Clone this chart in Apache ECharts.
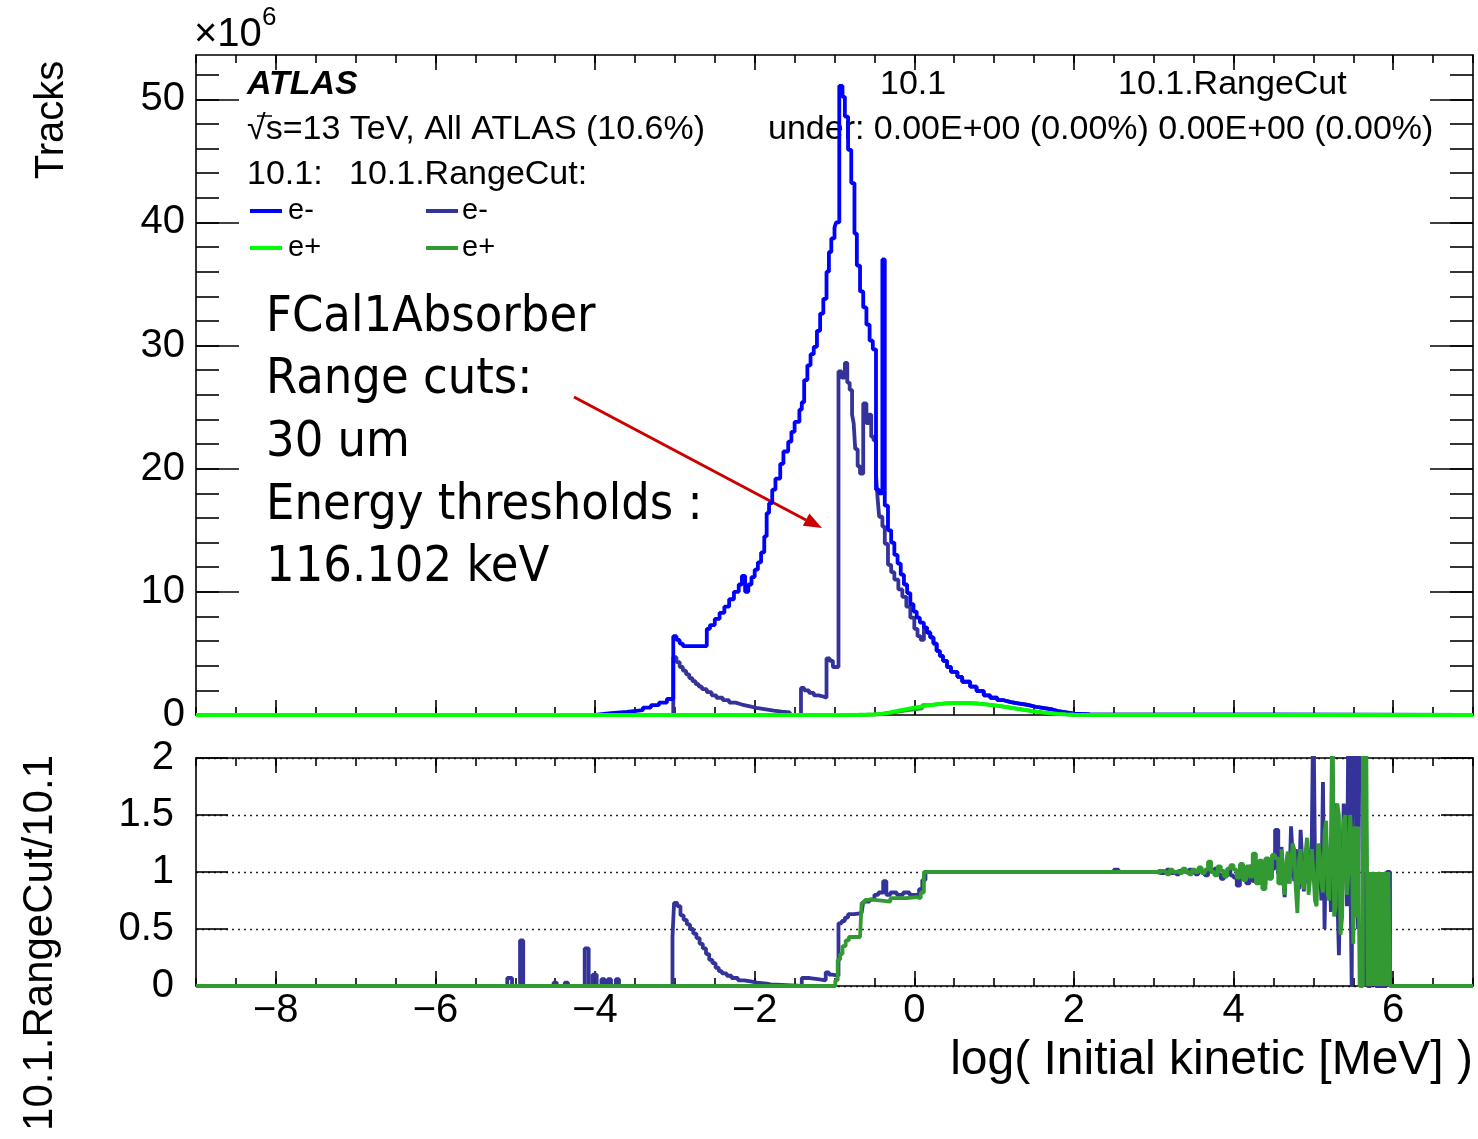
<!DOCTYPE html>
<html>
<head>
<meta charset="utf-8">
<script src="https://cdn.jsdelivr.net/npm/echarts@6/dist/echarts.min.js"></script>
<style>
  html, body { margin: 0; padding: 0; background: #ffffff; }
  #chart { width: 1478px; height: 1139px; }
</style>
</head>
<body>
<div id="chart"></div>
<script>
// Histogram contents: [left bin edge in log10(E/MeV), tracks in units of 10^6]
const electrons101 = [[-9,0],[-4.0,0.15],[-3.8,0.25],[-3.6,0.4],[-3.4,0.6],[-3.3,0.8],[-3.2,1.0],[-3.1,1.3],
  [-3.02,6.4],[-2.98,6.1],[-2.94,5.8],[-2.9,5.6],[-2.6,7.0],[-2.56,7.3],[-2.5,7.8],[-2.44,8.3],[-2.38,8.8],
  [-2.32,9.4],[-2.26,10.0],[-2.2,10.6],[-2.16,11.3],[-2.12,10.0],[-2.08,10.6],[-2.04,11.2],[-2.0,11.8],
  [-1.96,12.4],[-1.92,13.2],[-1.88,14.5],[-1.85,16.4],[-1.82,17.2],[-1.78,18.3],[-1.74,19.2],[-1.68,20.4],
  [-1.64,21.4],[-1.58,22.2],[-1.54,23.0],[-1.5,23.8],[-1.44,24.8],[-1.41,25.4],[-1.38,27.2],[-1.34,28.4],
  [-1.3,29.3],[-1.26,29.9],[-1.22,31.2],[-1.18,32.6],[-1.14,33.8],[-1.1,36.0],[-1.07,37.6],[-1.04,38.7],
  [-1.0,39.6],[-0.98,40.0],[-0.94,51.1],[-0.9,50.2],[-0.87,48.6],[-0.83,45.9],[-0.79,43.2],[-0.75,39.1],
  [-0.72,36.5],[-0.68,34.4],[-0.64,33.1],[-0.6,31.7],[-0.56,30.4],[-0.52,29.7],[-0.48,18.3],[-0.44,18.0],
  [-0.4,37.0],[-0.37,17.0],[-0.33,15.0],[-0.29,14.0],[-0.25,13.0],[-0.21,12.3],[-0.17,11.4],[-0.13,10.6],
  [-0.09,9.9],[-0.05,9.0],[-0.01,8.4],[0.03,7.9],[0.07,7.5],[0.12,7.1],[0.16,6.7],[0.2,6.3],[0.24,5.8],
  [0.28,5.2],[0.32,4.8],[0.36,4.4],[0.41,3.9],[0.46,3.5],[0.54,3.1],[0.6,2.7],[0.7,2.3],[0.78,1.95],
  [0.87,1.6],[0.95,1.4],[1.04,1.2],[1.12,1.05],[1.21,0.95],[1.3,0.82],[1.42,0.67],[1.52,0.55],[1.63,0.45],
  [1.73,0.32],[1.8,0.22],[1.9,0.12],[2.0,0.08],[2.1,0.05],[2.2,0],[7,0]];

const electronsRangeCut = [[-9,0],[-3.02,4.7],[-2.98,4.3],[-2.94,3.9],[-2.9,3.6],[-2.86,3.3],[-2.82,3.0],
  [-2.78,2.75],[-2.74,2.5],[-2.7,2.3],[-2.66,2.1],[-2.6,1.85],[-2.54,1.6],[-2.48,1.4],[-2.4,1.2],[-2.32,1.0],
  [-2.24,0.85],[-2.16,0.7],[-2.06,0.55],[-1.96,0.45],[-1.86,0.35],[-1.76,0.28],[-1.66,0.22],[-1.56,0],
  [-1.42,2.2],[-1.38,2.0],[-1.32,1.8],[-1.26,1.6],[-1.2,1.5],[-1.14,1.4],[-1.1,4.6],[-1.06,4.4],[-1.02,3.9],
  [-0.95,27.9],[-0.91,27.4],[-0.87,28.6],[-0.84,27.0],[-0.81,26.4],[-0.78,24.4],[-0.76,23.7],[-0.74,21.6],
  [-0.71,20.2],[-0.68,19.6],[-0.64,25.3],[-0.6,23.7],[-0.57,24.4],[-0.54,22.6],[-0.51,22.3],[-0.48,19.5],
  [-0.46,17.6],[-0.44,16.1],[-0.4,15.3],[-0.37,13.9],[-0.33,12.2],[-0.29,11.6],[-0.25,11.0],[-0.2,10.2],
  [-0.15,9.6],[-0.1,8.8],[-0.05,7.9],[0.0,7.0],[0.04,6.4],[0.08,6.1],[0.12,7.1],[0.16,6.7],[0.2,6.3],
  [0.24,5.8],[0.28,5.2],[0.32,4.8],[0.36,4.4],[0.41,3.9],[0.46,3.5],[0.54,3.1],[0.6,2.7],[0.7,2.3],
  [0.78,1.95],[0.87,1.6],[0.95,1.4],[1.04,1.2],[1.12,1.05],[1.21,0.95],[1.3,0.82],[1.42,0.67],[1.52,0.55],
  [1.63,0.45],[1.73,0.32],[1.8,0.22],[1.9,0.12],[2.0,0.08],[2.1,0.05],[2.2,0],[7,0]];

const positrons101 = [[-9,0],[-0.9,0.02],[-0.7,0.05],[-0.5,0.12],[-0.4,0.22],[-0.3,0.35],[-0.2,0.48],
  [-0.1,0.6],[0.0,0.7],[0.1,0.8],[0.2,0.88],[0.3,0.94],[0.4,0.97],[0.5,0.98],[0.6,0.96],[0.7,0.92],
  [0.8,0.86],[0.9,0.78],[1.0,0.7],[1.1,0.6],[1.2,0.5],[1.3,0.4],[1.4,0.3],[1.5,0.22],[1.6,0.15],
  [1.7,0.09],[1.8,0.05],[1.9,0.02],[2.0,0],[7,0]];

const positronsRangeCut = [[-9,0],[-0.9,0.005],[-0.7,0.02],[-0.6,0.04],[-0.5,0.09],[-0.4,0.17],[-0.3,0.27],
  [-0.2,0.37],[-0.1,0.46],[0.0,0.54],[0.1,0.8],[0.2,0.88],[0.3,0.94],[0.4,0.97],[0.5,0.98],[0.6,0.96],
  [0.7,0.92],[0.8,0.86],[0.9,0.78],[1.0,0.7],[1.1,0.6],[1.2,0.5],[1.3,0.4],[1.4,0.3],[1.5,0.22],[1.6,0.15],
  [1.7,0.09],[1.8,0.05],[1.9,0.02],[2.0,0],[7,0]];

// Ratio RangeCut / 10.1, e- : [left bin edge, ratio]
const ratioElectrons = [[-9,0],[-5.1,0.07],[-5.04,0],[-4.94,0.4],[-4.9,0],[-4.52,0.03],[-4.48,0],[-4.38,0.03],
  [-4.34,0],[-4.13,0.33],[-4.08,0],[-4.03,0.1],[-3.98,0],[-3.92,0.06],[-3.88,0],[-3.84,0.06],[-3.8,0],
  [-3.74,0.06],[-3.7,0],[-3.03,0.43],[-3.01,0.73],[-2.97,0.7],[-2.93,0.62],[-2.89,0.58],[-2.85,0.54],
  [-2.81,0.5],[-2.77,0.46],[-2.73,0.42],[-2.69,0.37],[-2.65,0.33],[-2.61,0.28],[-2.57,0.23],[-2.53,0.2],
  [-2.49,0.16],[-2.45,0.13],[-2.41,0.11],[-2.35,0.09],[-2.29,0.07],[-2.21,0.05],[-2.13,0.04],[-2.05,0.03],
  [-1.97,0.02],[-1.85,0.015],[-1.8,0],[-1.41,0.07],[-1.31,0.06],[-1.21,0.05],[-1.11,0.12],[-1.07,0.1],
  [-1.03,0.09],[-0.95,0.55],[-0.91,0.57],[-0.87,0.6],[-0.83,0.63],[-0.75,0.64],[-0.66,0.63],[-0.64,0.74],
  [-0.56,0.76],[-0.5,0.8],[-0.45,0.82],[-0.39,0.92],[-0.35,0.8],[-0.3,0.82],[-0.22,0.8],[-0.14,0.82],
  [-0.06,0.8],[0.0,0.8],[0.06,0.85],[0.1,0.93],[0.14,1.0],[1.0,1.0],[2.5,1.02],[2.56,1.0],[3.0,1.0],
  [3.04,1.01],[3.08,0.99],[3.12,1.0],[3.16,1.02],[3.2,0.99],[3.24,1.0],[3.28,0.98],[3.32,1.01],[3.36,1.0],
  [3.4,0.99],[3.44,1.02],[3.48,1.0],[3.52,0.98],[3.56,1.01],[3.6,1.0],[3.64,0.97],[3.68,1.02],[3.72,1.0],
  [3.76,1.03],[3.8,0.98],[3.84,0.94],[3.88,1.0],[3.92,1.02],[3.96,0.97],
  [4.0,0.95],[4.04,0.88],[4.08,1.03],[4.12,0.96],[4.16,0.9],[4.2,1.05],[4.24,0.92],[4.28,1.08],[4.32,0.97],
  [4.36,0.89],[4.4,1.06],[4.44,0.95],[4.48,1.03],[4.52,1.37],[4.56,0.98],
  [4.60,1.22],[4.62,0.95],[4.64,0.78],[4.66,1.05],[4.68,1.1],[4.70,0.9],[4.72,1.4],[4.74,1.15],[4.76,0.92],
  [4.78,1.2],[4.80,1.05],[4.82,0.85],[4.84,1.37],[4.86,1.1],[4.88,0.83],[4.90,1.0],[4.92,1.25],[4.94,0.9],
  [4.96,1.0],[4.98,1.3],[5.00,2.5],[5.02,1.1],[5.04,0.88],[5.06,1.2],[5.08,1.1],[5.10,0.75],[5.12,1.79],
  [5.14,0.5],[5.16,1.3],[5.18,0.9],[5.20,1.2],[5.22,0.65],[5.24,0.9],[5.26,1.5],[5.28,1.6],[5.30,0.8],
  [5.32,0.27],[5.34,1.1],[5.36,0.9],[5.38,1.6],[5.40,1.3],[5.42,0.7],[5.44,2.5],[5.46,1.2],[5.48,0.0],
  [5.50,2.5],[5.52,2.5],[5.54,0.9],[5.56,0.5],[5.58,2.5],[5.60,2.5],[5.62,1.2],[5.64,0.0],[5.66,1.5],
  [5.68,0.0],[5.70,0.0],[5.72,0.8],[5.74,0.0],[5.76,0.6],[5.78,0.0],[5.80,0.0],[5.82,0.0],[5.84,0.0],
  [5.86,1.0],[5.88,0.0],[5.90,0.0],[5.92,1.0],[5.94,1.0],[5.96,0.0],[7,0]];

// Ratio RangeCut / 10.1, e+
const ratioPositrons = [[-9,0],[-0.99,0.05],[-0.96,0.23],[-0.93,0.28],[-0.9,0.35],[-0.86,0.4],[-0.82,0.43],
  [-0.68,0.43],[-0.66,0.73],[-0.62,0.755],[-0.5,0.74],[-0.3,0.77],[-0.1,0.78],[0.03,0.77],[0.08,0.82],
  [0.12,1.0],[1.0,1.0],[3.0,1.0],
  [3.04,0.99],[3.08,1.01],[3.12,1.0],[3.16,0.98],[3.2,1.02],[3.24,1.0],[3.28,1.01],[3.32,0.99],[3.36,1.03],
  [3.4,1.0],[3.44,0.98],[3.48,1.02],[3.52,1.0],[3.56,1.04],[3.6,0.99],[3.64,1.02],[3.68,1.09],[3.72,1.0],
  [3.76,0.97],[3.8,1.05],[3.84,1.01],[3.88,0.96],[3.92,1.03],[3.96,1.06],
  [4.0,1.02],[4.04,0.95],[4.08,1.07],[4.12,0.93],[4.16,1.05],[4.2,0.96],[4.24,1.16],[4.28,0.9],[4.32,1.1],
  [4.36,0.85],[4.4,1.12],[4.44,0.94],[4.48,1.15],[4.52,1.12],[4.56,0.9],
  [4.60,1.2],[4.62,0.95],[4.64,0.8],[4.66,1.1],[4.68,1.18],[4.70,0.9],[4.72,1.05],[4.74,1.25],[4.76,1.2],
  [4.78,0.85],[4.80,0.64],[4.82,1.1],[4.84,1.2],[4.86,0.9],[4.88,0.85],[4.90,1.15],[4.92,1.3],[4.94,0.8],
  [4.96,0.95],[4.98,1.2],[5.00,1.0],[5.02,0.75],[5.04,0.7],[5.06,1.25],[5.08,1.15],[5.10,0.9],[5.12,0.82],
  [5.14,1.35],[5.16,1.45],[5.18,0.8],[5.20,0.75],[5.22,1.3],[5.24,2.5],[5.26,0.61],[5.28,0.7],[5.30,1.6],
  [5.32,1.5],[5.34,0.45],[5.36,0.6],[5.38,1.45],[5.40,1.5],[5.42,0.8],[5.44,1.0],[5.46,1.5],[5.48,1.3],
  [5.50,0.37],[5.52,1.4],[5.54,0.6],[5.56,1.4],[5.58,0.0],[5.60,0.0],[5.62,2.5],[5.64,1.0],[5.66,2.5],
  [5.68,0.0],[5.70,1.0],[5.72,0.0],[5.74,1.0],[5.76,0.0],[5.78,1.0],[5.80,0.0],[5.82,1.0],[5.84,0.0],
  [5.86,1.0],[5.88,0.0],[5.90,1.0],[5.92,0.0],[5.94,1.0],[5.96,0.0],[7,0]];

// Axis tick positions
const xMajorTicks = [-8, -6, -4, -2, 0, 2, 4, 6];
const yTopMajorTicks = [0, 10, 20, 30, 40, 50];

const xMinorTicks = [];
for (let v = -9; v <= 7.001; v += 0.5) xMinorTicks.push(+v.toFixed(1));
const yTopMinorTicks = [];
for (let v = 0; v <= 52.001; v += 2) yTopMinorTicks.push(v);

const FONT = '"Liberation Sans", Arial, Helvetica, sans-serif';
const NOTE_FONT = '50px "DejaVu Sans", Verdana, sans-serif';
const BLACK = '#000000';
const C_E101 = '#0000ff', C_ERC = '#333399', C_P101 = '#00ff00', C_PRC = '#339933';

function xAxisDef(grid, pos, ticks, len, withLabels, withLine) {
  return {
    type: 'value', gridIndex: grid, position: pos, min: -9, max: 7,
    axisLine: { show: withLine, onZero: false, lineStyle: { color: BLACK, width: 1.6 } },
    axisTick: { show: true, inside: true, length: len, customValues: ticks, lineStyle: { color: BLACK, width: 1.6 } },
    axisLabel: withLabels ? {
      show: true, customValues: xMajorTicks, color: BLACK, fontFamily: FONT, fontSize: 40, margin: 5,
      formatter: v => (v < 0 ? '\u2212' : '') + Math.abs(v)
    } : { show: false },
    splitLine: { show: false }
  };
}

function yTopDef(pos, ticks, len, withLabels, withLine) {
  return {
    type: 'value', gridIndex: 0, position: pos, min: 0, max: 53.6,
    axisLine: { show: withLine, onZero: false, lineStyle: { color: BLACK, width: 1.6 } },
    axisTick: { show: true, inside: true, length: len, customValues: ticks, lineStyle: { color: BLACK, width: 1.6 } },
    axisLabel: withLabels ? {
      show: true, customValues: yTopMajorTicks, color: BLACK, fontFamily: FONT, fontSize: 40, margin: 11
    } : { show: false },
    splitLine: { show: false }
  };
}

function yRatioDef(pos, withLabels, withGrid) {
  return {
    type: 'value', gridIndex: 1, position: pos, min: 0, max: 2, interval: 0.5,
    axisLine: { show: true, onZero: false, lineStyle: { color: BLACK, width: 1.6 } },
    axisTick: { show: true, inside: true, length: 32, lineStyle: { color: BLACK, width: 1.6 } },
    axisLabel: withLabels ? { show: true, color: BLACK, fontFamily: FONT, fontSize: 40, margin: 22 } : { show: false },
    splitLine: { show: withGrid, lineStyle: { color: '#222222', width: 1.3, type: [2, 4] } }
  };
}

// Step-line histogram; the ratio panel clips values that run off the top of its frame
function histo(data, color, xi, yi, z, clip) {
  return {
    type: 'line', data: data, step: 'end', xAxisIndex: xi, yAxisIndex: yi,
    showSymbol: false, symbol: 'none', animation: false, z: z, clip: clip,
    lineStyle: { color: color, width: 3.8 }
  };
}

function note(text, y) {
  return { type: 'text', x: 266, y: y, scaleX: 0.9, style: { text: text, font: NOTE_FONT, fill: BLACK, textVerticalAlign: 'middle' } };
}

const chart = echarts.init(document.getElementById('chart'), null, { renderer: 'canvas' });

const legendY1 = 211, legendY2 = 248;

chart.setOption({
  animation: false,
  backgroundColor: '#ffffff',
  grid: [
    { left: 196, top: 55, width: 1277, height: 660, show: false },
    { left: 196, top: 758, width: 1277, height: 228, show: false }
  ],
  xAxis: [
    xAxisDef(0, 'bottom', xMinorTicks, 8, false, true),
    xAxisDef(0, 'bottom', xMajorTicks, 15, false, false),
    xAxisDef(0, 'top', xMinorTicks, 8, false, true),
    xAxisDef(0, 'top', xMajorTicks, 15, false, false),
    xAxisDef(1, 'bottom', xMinorTicks, 8, false, true),
    xAxisDef(1, 'bottom', xMajorTicks, 15, true, false),
    xAxisDef(1, 'top', xMinorTicks, 8, false, true),
    xAxisDef(1, 'top', xMajorTicks, 15, false, false)
  ],
  yAxis: [
    yTopDef('left', yTopMinorTicks, 23, false, true),
    yTopDef('left', yTopMajorTicks, 43, true, false),
    yTopDef('right', yTopMinorTicks, 23, false, true),
    yTopDef('right', yTopMajorTicks, 43, false, false),
    yRatioDef('left', true, true),
    yRatioDef('right', false, false)
  ],
  series: [
    histo(electronsRangeCut, C_ERC, 0, 0, 2, false),
    histo(electrons101, C_E101, 0, 0, 3, false),
    histo(positronsRangeCut, C_PRC, 0, 0, 4, false),
    histo(positrons101, C_P101, 0, 0, 5, false),
    histo(ratioElectrons, C_ERC, 4, 4, 2, true),
    histo(ratioPositrons, C_PRC, 4, 4, 3, true)
  ],
  graphic: [
    // axis titles and exponent
    { type: 'text', x: 194, y: 35, style: { text: '\u00d710', font: '40px ' + FONT, fill: BLACK, textVerticalAlign: 'middle' } },
    { type: 'text', x: 262, y: 18, style: { text: '6', font: '26px ' + FONT, fill: BLACK, textVerticalAlign: 'middle' } },
    { type: 'text', x: 52, y: 120, rotation: Math.PI / 2, style: { text: 'Tracks', font: '40px ' + FONT, fill: BLACK, textAlign: 'center', textVerticalAlign: 'middle' } },
    { type: 'text', x: 40, y: 755, rotation: Math.PI / 2, style: { text: '10.1.RangeCut/10.1', font: '42px ' + FONT, fill: BLACK, textAlign: 'right', textVerticalAlign: 'middle' } },
    { type: 'text', x: 1473, y: 1061, style: { text: 'log( Initial kinetic [MeV] )', font: '48px ' + FONT, fill: BLACK, textAlign: 'right', textVerticalAlign: 'middle' } },

    // header block
    { type: 'text', x: 247, y: 85, style: { text: 'ATLAS', font: 'italic bold 34px ' + FONT, fill: BLACK, textVerticalAlign: 'middle' } },
    { type: 'text', x: 247, y: 130, style: { text: '\u221as=13 TeV, All ATLAS (10.6%)', font: '34px ' + FONT, fill: BLACK, textVerticalAlign: 'middle' } },
    { type: 'line', shape: { x1: 257, y1: 116, x2: 272, y2: 116 }, style: { stroke: BLACK, lineWidth: 1.5 } },
    { type: 'text', x: 247, y: 175, style: { text: '10.1:', font: '34px ' + FONT, fill: BLACK, textVerticalAlign: 'middle' } },
    { type: 'text', x: 349, y: 175, style: { text: '10.1.RangeCut:', font: '34px ' + FONT, fill: BLACK, textVerticalAlign: 'middle' } },
    { type: 'line', shape: { x1: 250, y1: legendY1, x2: 282, y2: legendY1 }, style: { stroke: C_E101, lineWidth: 4 } },
    { type: 'text', x: 288, y: legendY1, style: { text: 'e-', font: '29px ' + FONT, fill: BLACK, textVerticalAlign: 'middle' } },
    { type: 'line', shape: { x1: 426, y1: legendY1, x2: 458, y2: legendY1 }, style: { stroke: C_ERC, lineWidth: 4 } },
    { type: 'text', x: 462, y: legendY1, style: { text: 'e-', font: '29px ' + FONT, fill: BLACK, textVerticalAlign: 'middle' } },
    { type: 'line', shape: { x1: 250, y1: legendY2, x2: 282, y2: legendY2 }, style: { stroke: C_P101, lineWidth: 4 } },
    { type: 'text', x: 288, y: legendY2, style: { text: 'e+', font: '29px ' + FONT, fill: BLACK, textVerticalAlign: 'middle' } },
    { type: 'line', shape: { x1: 426, y1: legendY2, x2: 458, y2: legendY2 }, style: { stroke: C_PRC, lineWidth: 4 } },
    { type: 'text', x: 462, y: legendY2, style: { text: 'e+', font: '29px ' + FONT, fill: BLACK, textVerticalAlign: 'middle' } },

    { type: 'text', x: 880, y: 85, style: { text: '10.1', font: '34px ' + FONT, fill: BLACK, textVerticalAlign: 'middle' } },
    { type: 'text', x: 1118, y: 85, style: { text: '10.1.RangeCut', font: '34px ' + FONT, fill: BLACK, textVerticalAlign: 'middle' } },
    { type: 'text', x: 768, y: 130, style: { text: 'under: 0.00E+00 (0.00%) 0.00E+00 (0.00%)', font: '34px ' + FONT, fill: BLACK, textVerticalAlign: 'middle' } },

    // annotation
    note('FCal1Absorber', 318),
    note('Range cuts:', 380),
    note('30 um', 443),
    note('Energy thresholds :', 506),
    note('116.102 keV', 568),
    { type: 'line', shape: { x1: 574, y1: 397, x2: 806, y2: 520 }, style: { stroke: '#cc0000', lineWidth: 3 } },
    { type: 'polygon', shape: { points: [[822, 528], [802.8, 525.8], [809.4, 513.4]] }, style: { fill: '#cc0000' } }
  ]
});
</script>
</body>
</html>
